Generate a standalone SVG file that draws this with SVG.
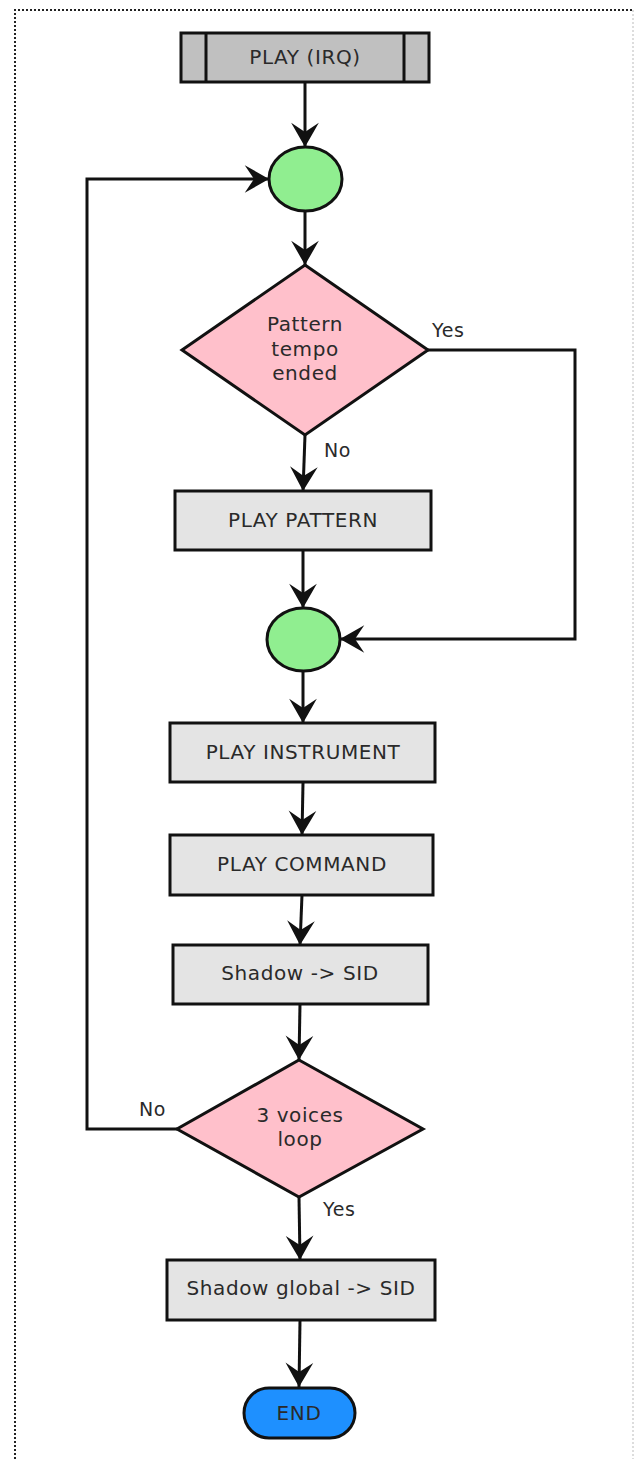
<svg xmlns="http://www.w3.org/2000/svg" width="636" height="1459" viewBox="0 0 636 1459">
<style>
text{font-family:"DejaVu Sans","Liberation Sans",sans-serif;font-size:20px;letter-spacing:0.6px;fill:#2a2a2a;text-anchor:middle;dominant-baseline:central}
.box{fill:#e4e4e4;stroke:#111;stroke-width:3}
.dec{fill:#ffc0cb;stroke:#111;stroke-width:3}
.junc{fill:#90ee90;stroke:#111;stroke-width:3}
.edge{fill:none;stroke:#111;stroke-width:3;marker-end:url(#arr)}
.lbl{text-anchor:start;font-size:19px}
</style>
<defs>
<marker id="arr" markerUnits="userSpaceOnUse" markerWidth="30" markerHeight="30" viewBox="-22 -13 24 26" refX="0" refY="0" orient="auto">
<path d="M0,0 L-21,-12 L-13,0 L-21,12 Z" fill="#111"/>
</marker>
</defs>
<rect x="0" y="0" width="636" height="1459" fill="#fff"/>
<g id="frame">
<path d="M15,1459 L15,10 L633,10" fill="none" stroke="#222" stroke-width="2" stroke-dasharray="2,2"/>
<path d="M633,10 L633,1459" fill="none" stroke="#bbb" stroke-width="1" stroke-dasharray="2,2"/>
</g>
<g id="connectors">
<path class="edge" d="M305,83 L305,147"/>
<path class="edge" d="M305,211 L305,265"/>
<path class="edge" d="M428,350 L575,350 L575,639 L340,639"/>
<path class="edge" d="M305,435 L303,491"/>
<path class="edge" d="M303,551 L303,608"/>
<path class="edge" d="M303,671 L303,723"/>
<path class="edge" d="M303,783 L302,835"/>
<path class="edge" d="M302,895 L300,945"/>
<path class="edge" d="M300,1004 L299,1060"/>
<path class="edge" d="M177,1129 L87,1129 L87,179 L269,179"/>
<path class="edge" d="M299,1197 L300,1260"/>
<path class="edge" d="M300,1320 L299,1387"/>
<text class="lbl" x="432" y="330">Yes</text>
<text class="lbl" x="324" y="450">No</text>
<text class="lbl" x="139" y="1109">No</text>
<text class="lbl" x="323" y="1209">Yes</text>
</g>
<g id="start">
<rect x="181" y="33" width="248" height="49" fill="#c0c0c0" stroke="#111" stroke-width="3"/>
<line x1="206" y1="33" x2="206" y2="82" stroke="#111" stroke-width="3"/>
<line x1="404" y1="33" x2="404" y2="82" stroke="#111" stroke-width="3"/>
<text x="305" y="57">PLAY (IRQ)</text>
</g>
<g id="junction1">
<ellipse class="junc" cx="305.5" cy="179" rx="36.5" ry="32"/>
</g>
<g id="decision1">
<polygon class="dec" points="305,265 428,350 305,435 182,350"/>
<text x="305" y="324">Pattern</text>
<text x="305" y="349">tempo</text>
<text x="305" y="373">ended</text>
</g>
<g id="playPattern">
<rect class="box" x="175" y="491" width="256" height="59"/>
<text x="303" y="520">PLAY PATTERN</text>
</g>
<g id="junction2">
<ellipse class="junc" cx="303.5" cy="639.5" rx="36.5" ry="31.5"/>
</g>
<g id="playInstrument">
<rect class="box" x="170" y="723" width="265" height="59"/>
<text x="303" y="752">PLAY INSTRUMENT</text>
</g>
<g id="playCommand">
<rect class="box" x="170" y="835" width="263" height="60"/>
<text x="302" y="864">PLAY COMMAND</text>
</g>
<g id="shadowSid">
<rect class="box" x="173" y="945" width="255" height="59"/>
<text x="300" y="973">Shadow -&gt; SID</text>
</g>
<g id="decision2">
<polygon class="dec" points="299,1060 423,1129 299,1197 177,1129"/>
<text x="300" y="1115">3 voices</text>
<text x="300" y="1139">loop</text>
</g>
<g id="shadowGlobal">
<rect class="box" x="167" y="1260" width="268" height="60"/>
<text x="301" y="1288">Shadow global -&gt; SID</text>
</g>
<g id="end">
<rect x="244" y="1388" width="111" height="50" rx="25" ry="25" fill="#1e90ff" stroke="#111" stroke-width="3"/>
<text x="299" y="1413">END</text>
</g>
</svg>
